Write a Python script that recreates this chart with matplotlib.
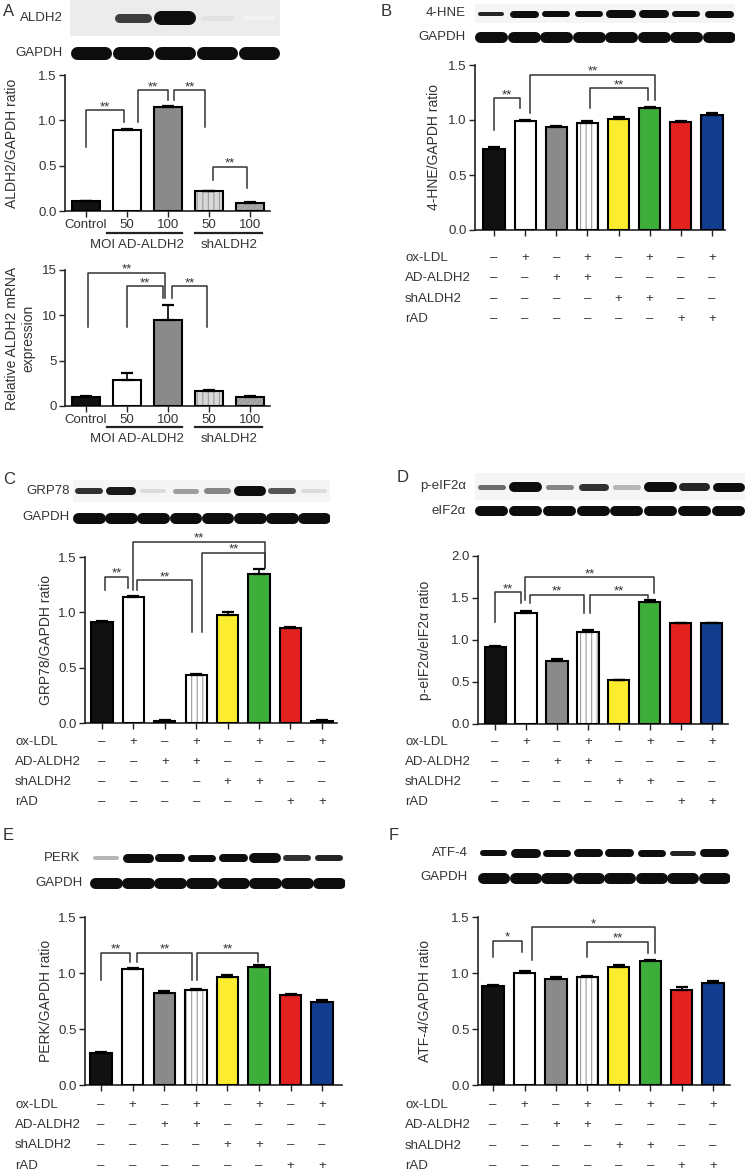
import matplotlib
matplotlib.use("Agg")
import matplotlib.pyplot as plt
import matplotlib.transforms as mtransforms
import numpy as np

plt.rcParams['font.family'] = ['Liberation Sans', 'DejaVu Sans']
TXT = '#333333'
FS = 9.5

# ---------------- data ----------------
a_groups = ['Control', '50', '100', '50', '100']
a_ratio = [0.11, 0.89, 1.15, 0.22, 0.09]
a_ratio_err = [0.005, 0.012, 0.01, 0.006, 0.006]
a_mrna = [1.0, 2.9, 9.5, 1.6, 1.0]
a_mrna_err = [0.05, 0.7, 1.6, 0.12, 0.15]

hne = [0.74, 0.99, 0.94, 0.97, 1.01, 1.11, 0.98, 1.05]
hne_err = [0.015, 0.008, 0.005, 0.025, 0.015, 0.01, 0.015, 0.01]
grp78 = [0.91, 1.14, 0.02, 0.43, 0.98, 1.35, 0.86, 0.02]
grp78_err = [0.01, 0.01, 0.005, 0.01, 0.02, 0.04, 0.01, 0.005]
peif = [0.92, 1.32, 0.75, 1.09, 0.52, 1.45, 1.20, 1.20]
peif_err = [0.01, 0.02, 0.02, 0.03, 0.008, 0.03, 0.005, 0.005]
perk = [0.29, 1.04, 0.82, 0.85, 0.96, 1.05, 0.80, 0.74]
perk_err = [0.005, 0.006, 0.015, 0.006, 0.025, 0.02, 0.01, 0.015]
atf4 = [0.88, 1.00, 0.95, 0.96, 1.05, 1.11, 0.85, 0.91]
atf4_err = [0.015, 0.015, 0.015, 0.01, 0.02, 0.01, 0.025, 0.02]

treatments = ['ox-LDL', 'AD-ALDH2', 'shALDH2', 'rAD']
signs = [
    ['–', '+', '–', '+', '–', '+', '–', '+'],
    ['–', '–', '+', '+', '–', '–', '–', '–'],
    ['–', '–', '–', '–', '+', '+', '–', '–'],
    ['–', '–', '–', '–', '–', '–', '+', '+'],
]

# western blot band darkness (0-1) and thickness (px)
aldh2_band = [0.0, 0.8, 1.0, 0.12, 0.05]
aldh2_thick = [0, 9, 14, 5, 4]
hne_band = [0.9, 1, 1, 1, 1, 1, 1, 1]
hne_thick = [4, 7, 6, 6, 8, 8, 6, 7]
grp_band = [0.85, 0.95, 0.15, 0.4, 0.5, 1.0, 0.7, 0.15]
grp_thick = [6, 8, 4, 5, 6, 10, 6, 4]
peif_band = [0.6, 1.0, 0.5, 0.85, 0.3, 1.0, 0.9, 1.0]
peif_thick = [5, 10, 5, 7, 5, 10, 8, 9]
perk_band = [0.3, 1, 1, 1, 1, 1, 0.85, 0.9]
perk_thick = [4, 9, 8, 7, 8, 10, 6, 6]
atf_band = [1, 1, 1, 1, 1, 1, 0.9, 1]
atf_thick = [6, 9, 7, 8, 8, 7, 5, 8]
gapdh5 = [1, 1, 1, 1, 1]
gapdh8 = [1, 1, 1, 1, 1, 1, 1, 1]

bar_colors = ['#111111', 'white', '#8a8a8a', 'white', '#fbec2e', '#3dae3a', '#e3221f', '#123c8e']
bar_hatch = [None, None, None, '|||', None, None, None, None]
a_colors = ['#111111', 'white', '#8a8a8a', '#d8d8d8', '#a8a8a8']
a_hatch = [None, None, None, '|||', '//////']

W, H = 750, 1172
fig = plt.figure(figsize=(W / 100, H / 100), dpi=100)
plt.rcParams['hatch.linewidth'] = 0.8


def box(x0, y0, x1, y1):
    return fig.add_axes([x0 / W, 1 - y1 / H, (x1 - x0) / W, (y1 - y0) / H])


def ftxt(x, y, s, **kw):
    kw.setdefault('color', TXT)
    fig.text(x / W, 1 - y / H, s, **kw)


def blot(x0, y0, x1, y1, dark, thick, label, lx, bg='#f5f5f5'):
    ax = box(x0, y0, x1, y1)
    n = len(dark)
    ax.set_xlim(-0.5, n - 0.5)
    ax.set_ylim(0, 1)
    ax.set_facecolor(bg)
    for s in ax.spines.values():
        s.set_visible(False)
    ax.set_xticks([])
    ax.set_yticks([])
    for i, (d, t) in enumerate(zip(dark, thick)):
        if d <= 0 or t <= 0:
            continue
        lev = 1 - 0.95 * d
        ax.plot([i - 0.34, i + 0.34], [0.5, 0.5], lw=t * 0.72,
                color=(lev, lev, lev), solid_capstyle='round')
    ftxt(lx, (y0 + y1) / 2, label, ha='right', va='center', fontsize=FS)


def bars(ax, vals, errs, colors, hatches, width):
    x = np.arange(len(vals))
    for i in range(len(vals)):
        ax.bar(x[i], vals[i], width, color=colors[i], edgecolor='#9a9a9a',
               hatch=hatches[i], linewidth=0, zorder=2)
    ax.bar(x, vals, width, fill=False, edgecolor='black', linewidth=1.5, zorder=3)
    ax.errorbar(x, vals, yerr=[np.zeros(len(vals)), errs], fmt='none',
                ecolor='black', elinewidth=1.2, capsize=4, capthick=1.6, zorder=4)


def style(ax, n, xlim, ylim, yticks, ylabs, xlabels=None):
    ax.set_xlim(*xlim)
    ax.set_ylim(*ylim)
    ax.spines['top'].set_visible(False)
    ax.spines['right'].set_visible(False)
    for s in ['left', 'bottom']:
        ax.spines[s].set_linewidth(1.2)
        ax.spines[s].set_color('#222222')
    ax.set_yticks(yticks)
    ax.set_yticklabels(ylabs)
    ax.set_xticks(range(n))
    ax.set_xticklabels(xlabels if xlabels else [''] * n)
    ax.tick_params(direction='out', length=4, width=1, labelsize=FS,
                   colors='#222222', labelcolor=TXT, pad=2)
    ax.patch.set_alpha(0)


def brackets(ax, specs):
    for x1, x2, yt, yl, yr, s in specs:
        ax.plot([x1, x1, x2, x2], [yl, yt, yt, yr], color='#333333', lw=1.1,
                clip_on=False, zorder=5)
        ax.text((x1 + x2) / 2, yt, s, ha='center', va='baseline', fontsize=FS,
                color=TXT, clip_on=False)


def table(ax, rows_y, label_x):
    tr = mtransforms.blended_transform_factory(ax.transData, fig.transFigure)
    for r, py in enumerate(rows_y):
        ftxt(label_x, py, treatments[r], ha='left', va='center', fontsize=FS)
        for i, s in enumerate(signs[r]):
            ax.text(i, 1 - py / H, s, transform=tr, ha='center', va='center',
                    fontsize=FS, color=TXT, clip_on=False)


def ylabel(x, y0, y1, s):
    ftxt(x, (y0 + y1) / 2, s, rotation=90, ha='center', va='center', fontsize=10)


# ---------------- panel A ----------------
ftxt(3, 11, 'A', ha='left', va='center', fontsize=12)
blot(70, 0, 280, 36, aldh2_band, aldh2_thick, 'ALDH2', 63, bg='#ececec')
blot(70, 44, 280, 62, gapdh5, [13] * 5, 'GAPDH', 63, bg='white')

axa = box(65, 75, 270, 211)
bars(axa, a_ratio, a_ratio_err, a_colors, a_hatch, 0.68)
style(axa, 5, (-0.51, 4.49), (0, 1.5), [0, 0.5, 1.0, 1.5], ['0.0', '0.5', '1.0', '1.5'], a_groups)
brackets(axa, [(0, 0.93, 1.11, 0.71, 0.98, '**'), (1.27, 2.0, 1.33, 0.98, 1.22, '**'),
               (2.15, 2.9, 1.33, 1.22, 0.93, '**'), (3.1, 3.93, 0.49, 0.34, 0.25, '**')])
ylabel(12, 75, 211, 'ALDH2/GAPDH ratio')

axm = box(65, 270, 270, 406)
bars(axm, a_mrna, a_mrna_err, a_colors, a_hatch, 0.68)
style(axm, 5, (-0.51, 4.49), (0, 15), [0, 5, 10, 15], ['0', '5', '10', '15'], a_groups)
brackets(axm, [(0.05, 1.93, 14.7, 8.7, 11.9, '**'), (1.0, 1.88, 13.2, 8.7, 11.9, '**'),
               (2.1, 2.95, 13.2, 11.9, 8.7, '**')])
ftxt(20, 338, 'Relative ALDH2 mRNA\nexpression', rotation=90, ha='center',
     va='center', fontsize=10, linespacing=1.25)

for yline, ygrp in [(233, 245), (427, 439)]:
    fig.add_artist(plt.Line2D([107 / W, 182 / W], [1 - yline / H] * 2, color='#222', lw=1.6))
    fig.add_artist(plt.Line2D([195 / W, 262 / W], [1 - yline / H] * 2, color='#222', lw=1.6))
    ftxt(137, ygrp, 'MOI AD-ALDH2', ha='center', va='center', fontsize=FS)
    ftxt(229, ygrp, 'shALDH2', ha='center', va='center', fontsize=FS)

# ---------------- panel B ----------------
ftxt(381, 12, 'B', ha='left', va='center', fontsize=12)
blot(475, 4, 735, 23, hne_band, hne_thick, '4-HNE', 466)
blot(475, 28, 735, 46, gapdh8, [11] * 8, 'GAPDH', 466, bg='white')
axb = box(475, 65, 725, 230)
bars(axb, hne, hne_err, bar_colors, bar_hatch, 0.68)
style(axb, 8, (-0.61, 7.42), (0, 1.5), [0, 0.5, 1.0, 1.5], ['0.0', '0.5', '1.0', '1.5'])
brackets(axb, [(0, 0.84, 1.20, 0.91, 1.11, '**'), (1.16, 5.18, 1.41, 1.06, 1.18, '**'),
               (3.09, 4.95, 1.29, 1.11, 1.18, '**')])
ylabel(434, 65, 230, '4-HNE/GAPDH ratio')
table(axb, [258, 278, 299, 319], 405)

# ---------------- panel C ----------------
ftxt(3, 480, 'C', ha='left', va='center', fontsize=12)
blot(73, 480, 330, 502, grp_band, grp_thick, 'GRP78', 70)
blot(73, 509, 330, 526, gapdh8, [11] * 8, 'GAPDH', 70, bg='white')
axc = box(85, 557, 337, 723)
bars(axc, grp78, grp78_err, bar_colors, bar_hatch, 0.68)
style(axc, 8, (-0.54, 7.48), (0, 1.5), [0, 0.5, 1.0, 1.5], ['0.0', '0.5', '1.0', '1.5'])
brackets(axc, [(0.1, 0.83, 1.32, 1.20, 1.22, '**'), (1.11, 2.87, 1.29, 1.20, 0.82, '**'),
               (0.99, 5.19, 1.64, 1.20, 1.40, '**'), (3.18, 5.19, 1.54, 0.82, 1.40, '**')])
ylabel(46, 557, 723, 'GRP78/GAPDH ratio')
table(axc, [742, 762, 782, 802], 15)

# ---------------- panel D ----------------
ftxt(397, 478, 'D', ha='left', va='center', fontsize=12)
blot(475, 473, 745, 500, peif_band, peif_thick, 'p-eIF2α', 466)
blot(475, 504, 745, 518, gapdh8, [10] * 8, 'eIF2α', 466, bg='white')
axd = box(478, 556, 728, 724)
bars(axd, peif, peif_err, bar_colors, bar_hatch, 0.68)
style(axd, 8, (-0.55, 7.52), (0, 2.0), [0, 0.5, 1.0, 1.5, 2.0], ['0.0', '0.5', '1.0', '1.5', '2.0'])
brackets(axd, [(0, 0.84, 1.57, 1.21, 1.44, '**'), (1.13, 2.87, 1.54, 1.44, 1.32, '**'),
               (0.97, 5.13, 1.75, 1.48, 1.56, '**'), (3.06, 4.94, 1.54, 1.32, 1.50, '**')])
ylabel(425, 556, 724, 'p-eIF2α/eIF2α ratio')
table(axd, [742, 762, 782, 802], 405)

# ---------------- panel E ----------------
ftxt(3, 835, 'E', ha='left', va='center', fontsize=12)
blot(90, 849, 345, 867, perk_band, perk_thick, 'PERK', 80, bg='white')
blot(90, 873, 345, 892, gapdh8, [11] * 8, 'GAPDH', 83, bg='white')
axe = box(85, 917, 342, 1085)
bars(axe, perk, perk_err, bar_colors, bar_hatch, 0.68)
style(axe, 8, (-0.51, 7.63), (0, 1.5), [0, 0.5, 1.0, 1.5], ['0.0', '0.5', '1.0', '1.5'])
brackets(axe, [(0, 0.92, 1.18, 0.94, 1.10, '**'), (1.14, 2.88, 1.18, 1.10, 0.94, '**'),
               (3.04, 4.97, 1.18, 0.94, 1.10, '**')])
ylabel(46, 917, 1085, 'PERK/GAPDH ratio')
table(axe, [1105, 1125, 1145, 1166], 15)

# ---------------- panel F ----------------
ftxt(389, 835, 'F', ha='left', va='center', fontsize=12)
blot(478, 843, 730, 862, atf_band, atf_thick, 'ATF-4', 468, bg='white')
blot(478, 868, 730, 887, gapdh8, [11] * 8, 'GAPDH', 468, bg='white')
axf = box(478, 917, 730, 1085)
bars(axf, atf4, atf4_err, bar_colors, bar_hatch, 0.68)
style(axf, 8, (-0.48, 7.54), (0, 1.5), [0, 0.5, 1.0, 1.5], ['0.0', '0.5', '1.0', '1.5'])
brackets(axf, [(0, 0.92, 1.29, 1.14, 1.19, '*'), (1.24, 5.16, 1.41, 1.12, 1.18, '*'),
               (2.99, 4.94, 1.28, 1.14, 1.18, '**')])
ylabel(425, 917, 1085, 'ATF-4/GAPDH ratio')
table(axf, [1105, 1125, 1146, 1166], 405)

fig.savefig('out.png', dpi=100)
